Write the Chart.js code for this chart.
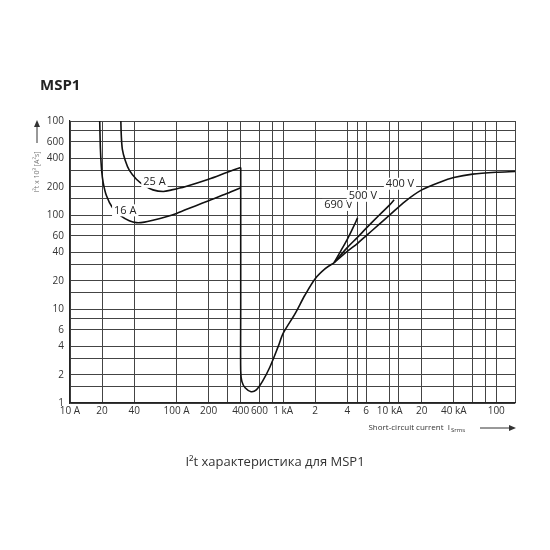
<!DOCTYPE html>
<html>
<head>
<meta charset="utf-8">
<script src="https://cdn.jsdelivr.net/npm/chart.js@4"></script>
<style>
  body { margin: 0; background: #fff; }
  #wrap { width: 550px; height: 550px; }
</style>
</head>
<body>
<div id="wrap"><canvas id="grafico" width="550" height="550"></canvas></div>
<script>
// curvas (x em A, y em I²t x 10³)
const curva16A = [[19,1000],[19.3,500],[19.8,300],[20.5,220],[22,160],[25,120],[30,98],[36,87],[42,83],[50,84],[60,88],[80,96],[100,104],[150,125],[200,142],[300,170],[400,195]];
const curva25A = [[30,1000],[30.3,700],[31,500],[33,380],[36,300],[42,240],[50,205],[60,185],[75,178],[90,185],[120,200],[200,240],[300,285],[400,320]];
const curvaBaixa = [[400,320],[400,100],[400,10],[400,2.2],[410,1.7],[440,1.45],[500,1.32],[560,1.38],[640,1.7],[750,2.4],[900,4],[1000,5.5],[1300,9],[1600,14],[2000,21],[2500,27],[3000,31]];
const curva690V = [[3000,31],[3500,42],[4000,55],[4500,72],[5000,93]];
const curva500V = [[3000,31],[4000,45],[5000,58],[6000,72],[8000,100],[10000,128],[11000,145]];
const curva400V = [[3000,31],[4000,41],[5000,50],[6000,60],[8000,80],[10000,100],[14000,140],[20000,185],[30000,225],[40000,250],[60000,272],[100000,285],[150000,290]];

const ticksX = [10,20,40,60,100,200,400,600,1000,2000,4000,6000,10000,20000,40000,100000];
const labelsX = ['10 A','20','40','60','100 A','200','400','600','1 kA','2','4','6','10 kA','20','40 kA','100'];
const gradeX = [10,20,40,100,200,300,400,600,800,1000,2000,4000,5000,6000,10000,12000,20000,40000,60000,80000,100000,150000];
const ticksY = [1,2,4,6,10,20,40,60,100,200,400,600,1000];
const labelsY = ['1','2','4','6','10','20','40','60','100','200','400','600','100'];
const gradeY = [1,1.5,2,3,4,6,8,10,15,20,30,40,60,80,100,150,200,300,400,600,800,1000];

const rotulos = [
    { t: '25 A', x: 62, y: 225 },
    { t: '16 A', x: 33, y: 112 },
    { t: '690 V', x: 3300, y: 128 },
    { t: '500 V', x: 5600, y: 160 },
    { t: '400 V', x: 12500, y: 215 }
];

function serie(pts) {
    return {
        data: pts.map(p => ({ x: p[0], y: p[1] })),
        borderColor: '#111', borderWidth: 1.6, pointRadius: 0, fill: false, tension: 0.3
    };
}

const fonte = 'Open Sans';

const textos = {
    id: 'textos',
    afterDatasetsDraw(chart) {
        const c = chart.ctx, sx = chart.scales.x, sy = chart.scales.y;
        c.save();
        c.font = '11px "' + fonte + '"';
        c.textAlign = 'center'; c.textBaseline = 'middle';
        rotulos.forEach(r => {
            const px = sx.getPixelForValue(r.x), py = sy.getPixelForValue(r.y);
            const w = c.measureText(r.t).width + 4;
            c.fillStyle = '#fff';
            c.fillRect(px - w / 2, py - 6, w, 12);
            c.fillStyle = '#222';
            c.fillText(r.t, px, py);
        });
        // titulo
        c.textAlign = 'left';
        c.font = 'bold 15px "' + fonte + '"';
        c.fillStyle = '#222';
        c.fillText('MSP1', 40, 86);
        // legenda inferior
        c.textAlign = 'center';
        c.font = '13px "' + fonte + '"';
        c.fillStyle = '#333';
        c.fillText('I²t характеристика для MSP1', 275, 462);
        // titulo eixo x
        c.font = '8px "' + fonte + '"';
        c.textAlign = 'right';
        c.fillText('Short-circuit current  I', 450, 428);
        c.font = '6px "' + fonte + '"';
        c.textAlign = 'left';
        c.fillText('Srms', 451, 430);
        c.strokeStyle = '#333'; c.lineWidth = 1;
        c.beginPath(); c.moveTo(480, 428); c.lineTo(512, 428); c.stroke();
        c.beginPath(); c.moveTo(516, 428); c.lineTo(509, 425); c.lineTo(509, 431); c.closePath(); c.fillStyle = '#333'; c.fill();
        // titulo eixo y
        c.save();
        c.translate(37, 172);
        c.rotate(-Math.PI / 2);
        c.font = '7px "' + fonte + '"';
        c.fillStyle = '#777';
        c.textAlign = 'center';
        c.fillText('I²t x 10³ [A²s]', 0, 0);
        c.restore();
        c.strokeStyle = '#333';
        c.beginPath(); c.moveTo(37, 143); c.lineTo(37, 126); c.stroke();
        c.beginPath(); c.moveTo(37, 120); c.lineTo(34, 127); c.lineTo(40, 127); c.closePath(); c.fillStyle = '#333'; c.fill();
        c.restore();
    }
};

const config1 = {
    type: 'line',
    data: {
        datasets: [serie(curva16A), serie(curva25A), serie(curvaBaixa), serie(curva690V), serie(curva500V), serie(curva400V)]
    },
    options: {
        responsive: false,
        animation: false,
        layout: { padding: { left: 30, right: 35, top: 121, bottom: 127 } },
        plugins: { legend: { display: false }, tooltip: { enabled: false } },
        scales: {
            x: {
                type: 'logarithmic', min: 10, max: 150000,
                afterBuildTicks(s) { s.ticks = gradeX.map(v => ({ value: v })); },
                afterFit(s) { s.height = 20; },
                ticks: {
                    autoSkip: false, maxRotation: 0, padding: 2,
                    color: '#333', font: { family: fonte, size: 10 },
                    callback(v) { const i = ticksX.indexOf(v); return i >= 0 ? labelsX[i] : ''; }
                },
                grid: { color: '#444', lineWidth: 1, drawTicks: false },
                border: { color: '#222', width: 1.2 }
            },
            y: {
                type: 'logarithmic', min: 1, max: 1000,
                afterBuildTicks(s) { s.ticks = gradeY.map(v => ({ value: v })); },
                afterFit(s) { s.width = 40; },
                ticks: {
                    autoSkip: false, padding: 6,
                    color: '#333', font: { family: fonte, size: 10 },
                    callback(v) { const i = ticksY.indexOf(v); return i >= 0 ? labelsY[i] : ''; }
                },
                grid: { color: '#444', lineWidth: 1, drawTicks: false },
                border: { color: '#222', width: 1.2 }
            }
        }
    },
    plugins: [textos]
};

new Chart(document.getElementById('grafico'), config1);
</script>
</body>
</html>
